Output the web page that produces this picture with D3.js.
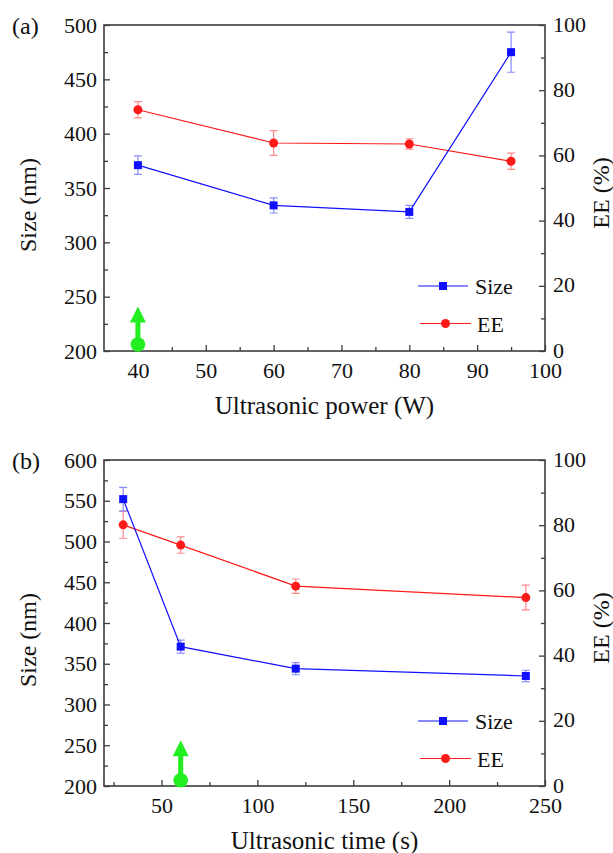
<!DOCTYPE html>
<html><head><meta charset="utf-8">
<script src="https://cdn.jsdelivr.net/npm/d3@7"></script>
<style>body{margin:0;background:#fff}svg{display:block}svg text{font-family:"Liberation Serif","DejaVu Serif",serif !important;fill:#111}</style>
</head><body><svg id="c" width="613" height="853" style="font-family:'Liberation Serif',serif"></svg>
<script>
// Panel (a): ultrasonic power
const powerW = [40, 60, 80, 95];
const sizeA = [371, 334, 328, 475];
const sizeErrA = [8.5, 7, 6, 18.5];
const eeA = [74.0, 63.8, 63.5, 58.2];
const eeErrA = [2.5, 3.8, 1.6, 2.5];
// Panel (b): ultrasonic time
const timeS = [30, 60, 120, 240];
const sizeB = [552, 371, 344, 335];
const sizeErrB = [14.5, 8, 7.5, 7];
const eeB = [80.1, 73.9, 61.3, 57.8];
const eeErrB = [4.1, 2.5, 2.2, 3.8];
// tick values
const xTicksA = [40, 50, 60, 70, 80, 90, 100];
const xMinorA = [45, 55, 65, 75, 85, 95];
const xTicksB = [50, 100, 150, 200, 250];
const xMinorB = [25, 75, 125, 175, 225];
const yTicksA = [200, 250, 300, 350, 400, 450, 500];
const yMinorA = [225, 275, 325, 375, 425, 475];
const yTicksB = [200, 250, 300, 350, 400, 450, 500, 550, 600];
const yMinorB = [225, 275, 325, 375, 425, 475, 525, 575];
const eeTicks = [0, 20, 40, 60, 80, 100];
const eeMinor = [10, 30, 50, 70, 90];
// green arrow annotations [x, circle size, tip size]
const arrowA = [40, 206, 241];
const arrowB = [60, 207, 256];
const legendLabels = ["Size", "EE"];

const FONT = "'Liberation Serif','DejaVu Serif',serif";
const svg = d3.select("#c");
const BLUE = "#1010ff", RED = "#ff1a1a", GREEN = "#22ee22", AX = "#3c3c3c";

function panel(cfg) {
  const L = 104, R = 545, T = cfg.top, B = cfg.top + 326;
  const g = svg.append("g");
  const x = d3.scaleLinear().domain(cfg.xDom).range([L, R]);
  const y = d3.scaleLinear().domain(cfg.yDom).range([B, T]);
  const y2 = d3.scaleLinear().domain([0, 100]).range([B, T]);

  function ax(axis, tr) {
    const a = g.append("g").attr("transform", tr).call(axis).attr("font-family", FONT);
    a.select(".domain").remove();
    a.selectAll(".tick line").attr("stroke", AX).attr("stroke-width", 1.3);
    a.selectAll("text").style("font-size", "22px").style("font-family", FONT).attr("fill", "#111");
    return a;
  }
  ax(d3.axisBottom(x).tickValues(cfg.xTicks).tickSize(-6).tickPadding(11).tickFormat(d3.format("d")), `translate(0,${B})`);
  ax(d3.axisBottom(x).tickValues(cfg.xMinor).tickSize(-4).tickFormat(""), `translate(0,${B})`);
  ax(d3.axisLeft(y).tickValues(cfg.yTicks).tickSize(-6).tickPadding(7).tickFormat(d3.format("d")), `translate(${L},0)`);
  ax(d3.axisLeft(y).tickValues(cfg.yMinor).tickSize(-4).tickFormat(""), `translate(${L},0)`);
  const r = ax(d3.axisRight(y2).tickValues(eeTicks).tickSize(-6).tickPadding(8).tickFormat(d3.format("d")), `translate(${R},0)`);
  r.selectAll("text").attr("dy", "0.28em");
  ax(d3.axisRight(y2).tickValues(eeMinor).tickSize(-4).tickFormat(""), `translate(${R},0)`);

  g.append("rect").attr("x", L).attr("y", T).attr("width", R - L).attr("height", B - T)
    .attr("fill", "none").attr("stroke", AX).attr("stroke-width", 1.6);

  const txt = (sel) => sel.style("font-family", FONT).attr("fill", "#111");
  // titles
  txt(g.append("text").attr("x", (L + R) / 2).attr("y", B + 63).attr("text-anchor", "middle")
    .style("font-size", "25px").text(cfg.xTitle));
  txt(g.append("text").attr("transform", `translate(36,${(T + B) / 2 + 17}) rotate(-90)`)
    .attr("text-anchor", "middle").style("font-size", "24px").text("Size (nm)"));
  txt(g.append("text").attr("transform", `translate(609,${(T + B) / 2 + 5}) rotate(-90)`)
    .attr("text-anchor", "middle").style("font-size", "24px").text("EE (%)"));
  txt(g.append("text").attr("x", 12).attr("y", T + 9).style("font-size", "24px").text(cfg.label));

  // data
  const pts = cfg.xs.map((v, i) => ({ x: v, s: cfg.size[i], se: cfg.sizeErr[i], e: cfg.ee[i], ee: cfg.eeErr[i] }));
  const cap = 4;
  // EE series
  g.append("g").selectAll("path").data(pts).join("path")
    .attr("d", d => `M${x(d.x)},${y2(d.e - d.ee)}V${y2(d.e + d.ee)}M${x(d.x) - cap},${y2(d.e - d.ee)}h${2 * cap}M${x(d.x) - cap},${y2(d.e + d.ee)}h${2 * cap}`)
    .attr("stroke", "#ff8a8a").attr("stroke-width", 1.2).attr("fill", "none");
  g.append("path").datum(pts).attr("d", d3.line().x(d => x(d.x)).y(d => y2(d.e)))
    .attr("stroke", RED).attr("stroke-width", 1.2).attr("fill", "none");
  g.append("g").selectAll("circle").data(pts).join("circle")
    .attr("cx", d => x(d.x)).attr("cy", d => y2(d.e)).attr("r", 4.5).attr("fill", RED);
  // Size series
  g.append("g").selectAll("path").data(pts).join("path")
    .attr("d", d => `M${x(d.x)},${y(d.s - d.se)}V${y(d.s + d.se)}M${x(d.x) - cap},${y(d.s - d.se)}h${2 * cap}M${x(d.x) - cap},${y(d.s + d.se)}h${2 * cap}`)
    .attr("stroke", "#8a8aff").attr("stroke-width", 1.2).attr("fill", "none");
  g.append("path").datum(pts).attr("d", d3.line().x(d => x(d.x)).y(d => y(d.s)))
    .attr("stroke", BLUE).attr("stroke-width", 1.2).attr("fill", "none");
  g.append("g").selectAll("rect").data(pts).join("rect")
    .attr("x", d => x(d.x) - 4).attr("y", d => y(d.s) - 4).attr("width", 8).attr("height", 8).attr("fill", BLUE);

  // legend
  const ly = [cfg.top + 261, cfg.top + 298.5];
  const cols = [BLUE, RED];
  legendLabels.forEach((lab, i) => {
    const x0 = 418 + i * 2, x1 = 468 + i * 3, xm = (x0 + x1) / 2;
    g.append("line").attr("x1", x0).attr("x2", x1).attr("y1", ly[i]).attr("y2", ly[i])
      .attr("stroke", cols[i]).attr("stroke-width", 1.2);
    if (i === 0) g.append("rect").attr("x", xm - 4).attr("y", ly[i] - 4).attr("width", 8).attr("height", 8).attr("fill", BLUE);
    else g.append("circle").attr("cx", xm).attr("cy", ly[i]).attr("r", 4.5).attr("fill", RED);
    txt(g.append("text").attr("x", 475 + i * 2).attr("y", ly[i] + 8).style("font-size", "22px").text(lab));
  });

  // green arrow
  const ar = cfg.arrow;
  const ax0 = x(ar[0]), cy = y(ar[1]), ty = y(ar[2]);
  g.append("rect").attr("x", ax0 - 2.5).attr("y", ty + 14).attr("width", 5).attr("height", cy - ty - 14).attr("fill", GREEN);
  g.append("path").attr("d", `M${ax0},${ty}L${ax0 + 8},${ty + 16}L${ax0 - 8},${ty + 16}Z`).attr("fill", GREEN);
  g.append("circle").attr("cx", ax0).attr("cy", cy).attr("r", 7.3).attr("fill", GREEN);
}

panel({ top: 25, xDom: [35, 100], yDom: [200, 500], xTicks: xTicksA, xMinor: xMinorA, yTicks: yTicksA, yMinor: yMinorA,
  xs: powerW, size: sizeA, sizeErr: sizeErrA, ee: eeA, eeErr: eeErrA, xTitle: "Ultrasonic power (W)", label: "(a)", arrow: arrowA });
panel({ top: 460, xDom: [20, 250], yDom: [200, 600], xTicks: xTicksB, xMinor: xMinorB, yTicks: yTicksB, yMinor: yMinorB,
  xs: timeS, size: sizeB, sizeErr: sizeErrB, ee: eeB, eeErr: eeErrB, xTitle: "Ultrasonic time (s)", label: "(b)", arrow: arrowB });
</script></body></html>
